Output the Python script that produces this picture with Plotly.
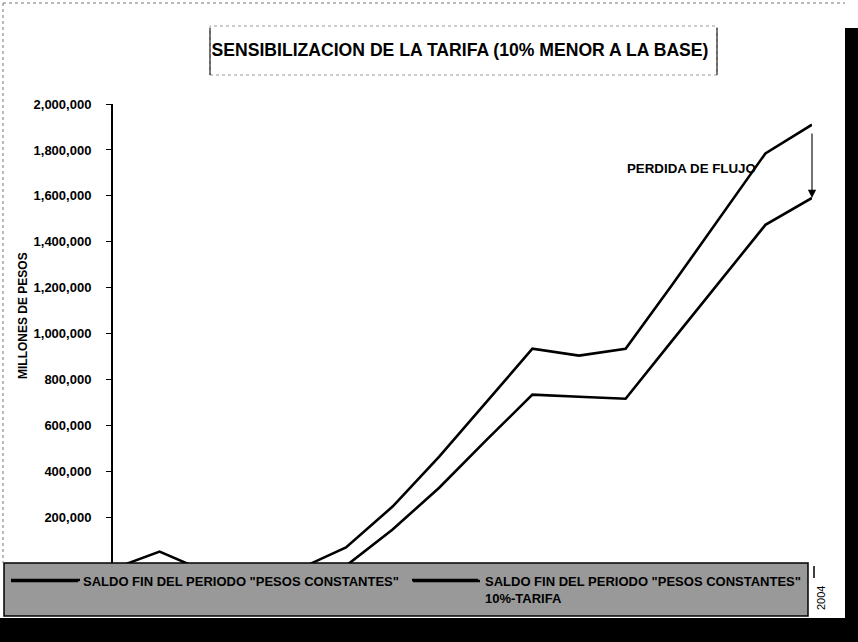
import plotly.graph_objects as go

# Periodos de la proyeccion (eje horizontal)
periodos = list(range(1, 17))

# Saldo fin del periodo, pesos constantes (escenario base)
saldo_base = [-23000, 52000, -35000, -30000, -23000, 70000, 248000, 465000,
              700000, 935000, 905000, 935000, 1213000, 1500000, 1785000, 1910000]

# Saldo fin del periodo, pesos constantes, tarifa 10% menor
saldo_tarifa = [-60000, -20000, -90000, -85000, -75000, -10000, 148000, 330000,
                535000, 735000, 726000, 717000, 970000, 1222000, 1474000, 1591000]

nombres = ['SALDO FIN DEL PERIODO "PESOS CONSTANTES"',
           'SALDO FIN DEL PERIODO "PESOS CONSTANTES"<br>10%-TARIFA']

y_ticks = [200000 * i for i in range(1, 11)]
y_tick_text = [f"{v:,}" for v in y_ticks]

W, H = 858, 642
ML, MR, MT, MB = 113, 46, 104, 44
PW = W - ML - MR
PH = H - MT - MB


def px(xp):
    """pixel column -> paper x"""
    return (xp - ML) / PW


def py(yp):
    """pixel row (from top) -> paper y"""
    return (H - MB - yp) / PH


FONT = "Liberation Sans, Arial, sans-serif"
LINE_W = 2.6

fig = go.Figure()
for nombre, serie, leyenda in zip(nombres, [saldo_base, saldo_tarifa],
                                  ["legend", "legend2"]):
    fig.add_trace(go.Scatter(
        x=periodos, y=serie, mode="lines", name=nombre, legend=leyenda,
        line=dict(color="black", width=LINE_W),
    ))

shapes = [
    # recuadro de la leyenda
    dict(type="rect", xref="paper", yref="paper", layer="above",
         x0=px(4), x1=px(808), y0=py(616), y1=py(563),
         fillcolor="#999999", line=dict(color="black", width=1.5)),
    # trazos largos de la leyenda
    dict(type="line", xref="paper", yref="paper", layer="above",
         x0=px(11), x1=px(80), y0=py(580), y1=py(580),
         line=dict(color="black", width=LINE_W)),
    dict(type="line", xref="paper", yref="paper", layer="above",
         x0=px(412), x1=px(478), y0=py(580), y1=py(580),
         line=dict(color="black", width=LINE_W)),
    # franjas oscuras del borde
    dict(type="rect", xref="paper", yref="paper", layer="above",
         x0=px(0), x1=px(858), y0=py(642), y1=py(618),
         fillcolor="black", line=dict(width=0)),
    dict(type="rect", xref="paper", yref="paper", layer="above",
         x0=px(845), x1=px(858), y0=py(642), y1=py(28),
         fillcolor="black", line=dict(width=0)),
    # marco punteado
    dict(type="line", xref="paper", yref="paper", layer="above",
         x0=px(3), x1=px(845), y0=py(3), y1=py(3),
         line=dict(color="#777777", width=1, dash="dot")),
    dict(type="line", xref="paper", yref="paper", layer="above",
         x0=px(3), x1=px(3), y0=py(3), y1=py(563),
         line=dict(color="#777777", width=1, dash="dot")),
    dict(type="line", xref="paper", yref="paper", layer="above",
         x0=px(814), x1=px(814), y0=py(566), y1=py(578),
         line=dict(color="black", width=1.5)),
    # recuadro del titulo
    dict(type="rect", xref="paper", yref="paper", layer="above",
         x0=px(210), x1=px(717), y0=py(75), y1=py(26),
         line=dict(color="#999999", width=1, dash="dot")),
    dict(type="line", xref="paper", yref="paper", layer="above",
         x0=px(210), x1=px(210), y0=py(28), y1=py(75),
         line=dict(color="#222222", width=1.2)),
    dict(type="line", xref="paper", yref="paper", layer="above",
         x0=px(717), x1=px(717), y0=py(28), y1=py(75),
         line=dict(color="#222222", width=1.2)),
]

annotations = [
    dict(text="<b>MILLONES DE PESOS</b>", xref="paper", yref="paper",
         x=px(23), y=py(316), textangle=-90, showarrow=False,
         xanchor="center", yanchor="middle",
         font=dict(family=FONT, size=12, color="black")),
    dict(text="<b>PERDIDA DE FLUJO</b>", xref="paper", yref="paper",
         x=px(758), y=py(168), showarrow=False,
         xanchor="right", yanchor="middle",
         font=dict(family=FONT, size=13.3, color="black")),
    # flecha entre ambas curvas en el ultimo periodo
    dict(text="", x=periodos[-1], y=saldo_tarifa[-1], xref="x", yref="y",
         ax=periodos[-1], ay=1878000, axref="x", ayref="y",
         showarrow=True, arrowhead=2, arrowsize=1.5, arrowwidth=1.1,
         arrowcolor="black", standoff=0),
    dict(text="2004", xref="paper", yref="paper", x=px(821), y=py(598),
         textangle=-90, showarrow=False, xanchor="center", yanchor="middle",
         font=dict(family=FONT, size=11, color="black")),
]

legend_style = dict(
    orientation="h", xref="container", yref="container",
    y=(H - 566) / H, xanchor="left", yanchor="top",
    bgcolor="rgba(0,0,0,0)", borderwidth=0, valign="top", itemwidth=67,
    font=dict(family=FONT, size=13, color="black", weight="bold"),
)

fig.update_layout(
    width=W, height=H,
    margin=dict(l=ML, r=MR, t=MT, b=MB, autoexpand=False),
    paper_bgcolor="white", plot_bgcolor="white",
    title=dict(
        text="<b>SENSIBILIZACION DE LA TARIFA (10% MENOR A LA BASE)</b>",
        xref="container", yref="container", x=460 / W, y=1 - 50 / H,
        xanchor="center", yanchor="middle",
        font=dict(family=FONT, size=17.6, color="black"),
    ),
    xaxis=dict(range=[periodos[0], periodos[-1]], showgrid=False, zeroline=False,
               showline=False, showticklabels=False, ticks=""),
    yaxis=dict(range=[-150000, 2000000], tickvals=y_ticks, ticktext=y_tick_text,
               showgrid=False, zeroline=False, showline=True, linecolor="black",
               linewidth=2, ticks="outside", ticklen=5, tickcolor="black",
               tickwidth=1, ticklabelstandoff=12,
               tickfont=dict(family=FONT, size=13, color="black", weight="bold")),
    showlegend=True,
    legend=dict(x=6 / W, **legend_style),
    legend2=dict(x=408 / W, **legend_style),
    shapes=shapes,
    annotations=annotations,
)

fig.write_html("out.html")
